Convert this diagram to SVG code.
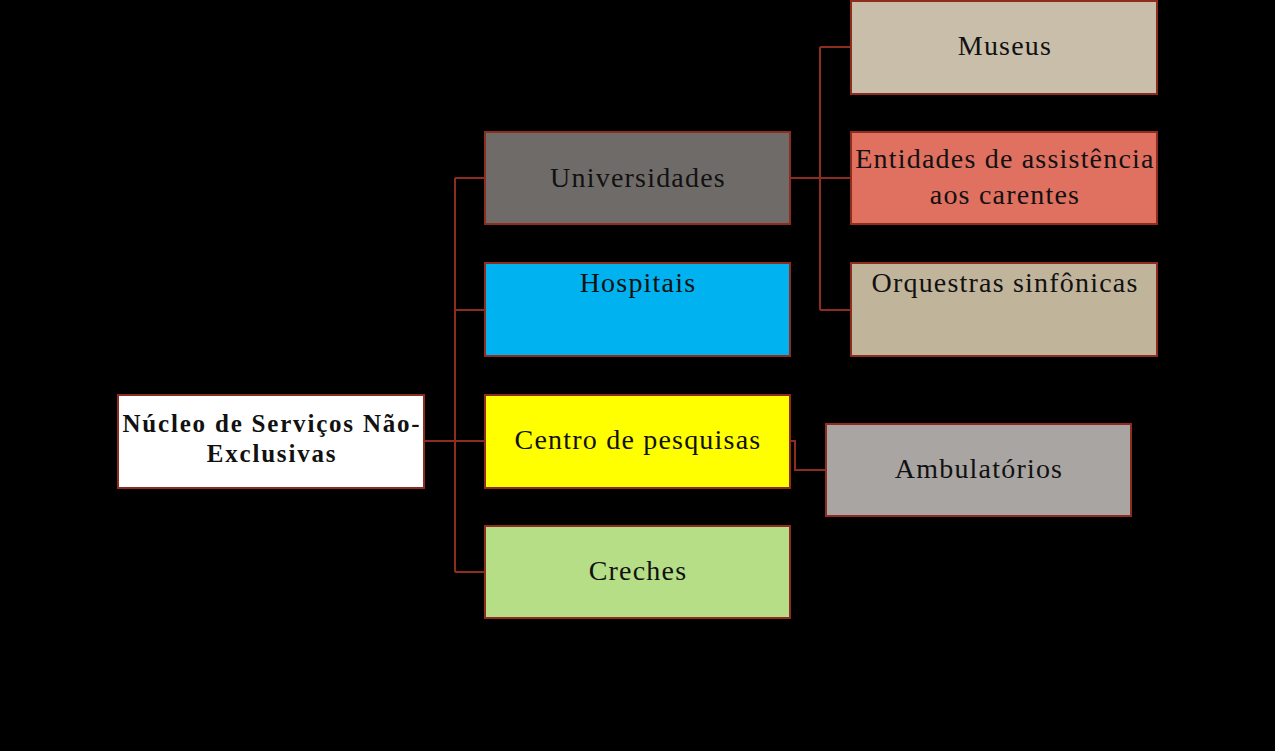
<svg xmlns="http://www.w3.org/2000/svg" width="1275" height="751" viewBox="0 0 1275 751">
<style>
.box{stroke:#8E2C1F;stroke-width:2}
.t{font-family:"Liberation Serif",serif;font-size:28px;letter-spacing:1.2px;fill:#111;text-anchor:middle}
.tb{font-family:"Liberation Serif",serif;font-size:25px;letter-spacing:1.8px;font-weight:bold;fill:#111;text-anchor:middle}
.c{fill:none;stroke:#8E2C1F;stroke-width:2}
</style>
<rect width="1275" height="751" fill="#000"/>
<g id="connectors">
<path class="c" d="M424 441H485M455 178V572M455 178H485M455 310H485M455 572H485"/>
<path class="c" d="M790 178H851M820 47V310M820 47H851M820 310H851"/>
<path class="c" d="M790 441H795V470H826"/>
</g>
<g id="root"><rect class="box" x="118" y="395" width="306" height="93" fill="#FFFFFF"/>
<text class="tb" x="272" y="432">Núcleo de Serviços Não-</text><text class="tb" x="272" y="462">Exclusivas</text></g>
<g id="universidades"><rect class="box" x="485" y="132" width="305" height="92" fill="#6F6B69"/><text class="t" x="638" y="187">Universidades</text></g>
<g id="hospitais"><rect class="box" x="485" y="263" width="305" height="93" fill="#00B2EF"/><text class="t" x="638" y="292">Hospitais</text></g>
<g id="centro"><rect class="box" x="485" y="395" width="305" height="93" fill="#FFFF00"/><text class="t" x="638" y="449">Centro de pesquisas</text></g>
<g id="creches"><rect class="box" x="485" y="526" width="305" height="92" fill="#B6DE86"/><text class="t" x="638" y="580">Creches</text></g>
<g id="museus"><rect class="box" x="851" y="1" width="306" height="93" fill="#C8BEAA"/><text class="t" x="1005" y="55">Museus</text></g>
<g id="entidades"><rect class="box" x="851" y="132" width="306" height="92" fill="#E07060"/><text class="t" x="1005" y="168">Entidades de assistência</text><text class="t" x="1005" y="204">aos carentes</text></g>
<g id="orquestras"><rect class="box" x="851" y="263" width="306" height="93" fill="#C0B49A"/><text class="t" x="1005" y="292">Orquestras sinfônicas</text></g>
<g id="ambulatorios"><rect class="box" x="826" y="424" width="305" height="92" fill="#A9A5A3"/><text class="t" x="979" y="478">Ambulatórios</text></g>
</svg>
